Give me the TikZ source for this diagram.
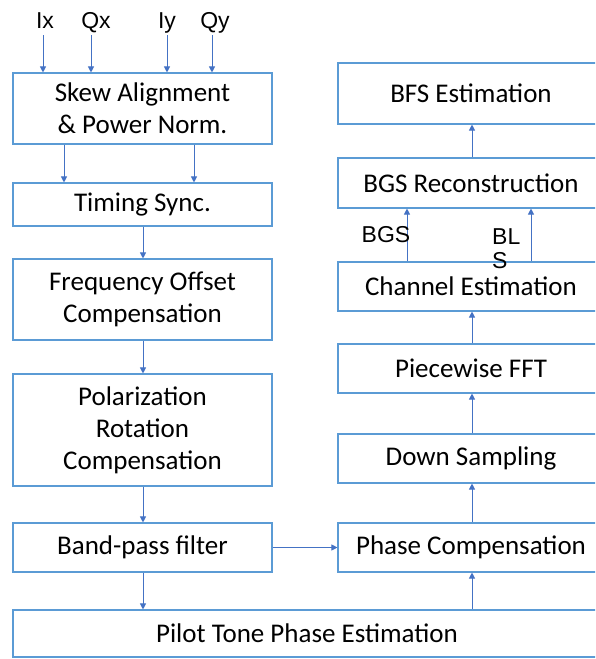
\documentclass[tikz,border=0pt]{standalone}
\usepackage{fontspec}
\setmainfont{Carlito}
\newfontfamily\lblfont{Liberation Sans}
\usetikzlibrary{arrows.meta}
\definecolor{boxblue}{RGB}{91,155,213}
\definecolor{arrblue}{RGB}{68,114,196}
\begin{document}
\begin{tikzpicture}[x=1pt,y=-1pt,
  blk/.style={draw=boxblue,line width=1.1pt,inner sep=0pt,align=center,
    font=\fontsize{27}{32}\selectfont},
  arr/.style={draw=arrblue,line width=1pt,-{Triangle[length=6pt,width=6pt]}},
  lbl/.style={inner sep=0pt,font=\lblfont\fontsize{23}{24}\selectfont}]
\clip (0,0) rectangle (595,659);
\fill[white] (0,0) rectangle (595,659);
% left column
\node[blk,minimum width=259pt,minimum height=71pt] (skew) at (142.5,108.5) {Skew Alignment\\\& Power Norm.};
\node[blk,minimum width=259pt,minimum height=43pt] (timing) at (142.5,204.5) {Timing Sync.};
\node[blk,minimum width=259pt,minimum height=81pt] (freq) at (142.5,299.5) {Frequency Offset\\Compensation};
\node[blk,minimum width=259pt,minimum height=112pt] (polar) at (142.5,430) {Polarization\\Rotation\\Compensation};
\node[blk,minimum width=259pt,minimum height=49pt] (band) at (142.5,547.5) {Band-pass filter};
\node[blk,minimum width=588pt,minimum height=47pt] (pilot) at (307,633.5) {Pilot Tone Phase Estimation};
% right column
\node[blk,minimum width=266pt,minimum height=61pt] (bfs) at (471,93.5) {BFS Estimation};
\node[blk,minimum width=266pt,minimum height=50pt] (recon) at (471,183) {BGS Reconstruction};
\node[blk,minimum width=266pt,minimum height=49pt] (chan) at (471,286.5) {Channel Estimation};
\node[blk,minimum width=266pt,minimum height=49pt] (piece) at (471,368.5) {Piecewise FFT};
\node[blk,minimum width=266pt,minimum height=49pt] (down) at (471,458.5) {Down Sampling};
\node[blk,minimum width=266pt,minimum height=49pt] (phase) at (471,547.5) {Phase Compensation};
% input labels
\node[lbl,anchor=base] (ix) at (45,28) {Ix};
\node[lbl,anchor=base] (qx) at (96,28) {Qx};
\node[lbl,anchor=base] (iy) at (167,28) {Iy};
\node[lbl,anchor=base] (qy) at (215,28) {Qy};
\coordinate (inix) at (43,35);
\coordinate (inqx) at (91,35);
\coordinate (iniy) at (167,35);
\coordinate (inqy) at (212,35);
\draw[arr] (inix) -- (skew.north -| inix);
\draw[arr] (inqx) -- (skew.north -| inqx);
\draw[arr] (iniy) -- (skew.north -| iniy);
\draw[arr] (inqy) -- (skew.north -| inqy);
% column x positions
\coordinate (xa) at (64,0);
\coordinate (xb) at (194,0);
\coordinate (xc) at (143,0);
\coordinate (xr) at (472,0);
\coordinate (xg) at (407,0);
\coordinate (xl) at (531,0);
\draw[arr] (skew.south -| xa) -- (timing.north -| xa);
\draw[arr] (skew.south -| xb) -- (timing.north -| xb);
\draw[arr] (timing.south -| xc) -- (freq.north -| xc);
\draw[arr] (freq.south -| xc) -- (polar.north -| xc);
\draw[arr] (polar.south -| xc) -- (band.north -| xc);
\draw[arr] (band.south -| xc) -- (pilot.north -| xc);
\draw[arr] (band.east) -- (phase.west);
\draw[arr] (pilot.north -| xr) -- (phase.south -| xr);
\draw[arr] (phase.north -| xr) -- (down.south -| xr);
\draw[arr] (down.north -| xr) -- (piece.south -| xr);
\draw[arr] (piece.north -| xr) -- (chan.south -| xr);
\draw[arr] (chan.north -| xg) -- (recon.south -| xg);
\draw[arr] (chan.north -| xl) -- (recon.south -| xl);
\draw[arr] (recon.north -| xr) -- (bfs.south -| xr);
% signal labels
\node[lbl,anchor=base] (bgs) at (386,242) {BGS};
\node[lbl,anchor=north west,align=left] (bls) at (492,228) {BL\\S};
\end{tikzpicture}
\end{document}
